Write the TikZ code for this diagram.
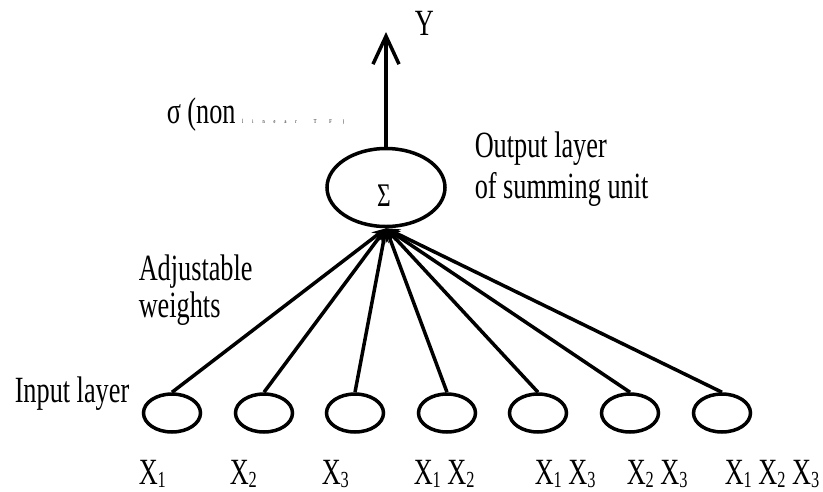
\documentclass[tikz,border=0pt]{standalone}
\usepackage{fontspec}
\setmainfont[FakeStretch=0.71]{Liberation Serif}
\usetikzlibrary{arrows.meta,positioning,shapes.geometric}
\newcommand{\lgap}{\hspace{9pt}}
\newcommand{\xs}[1]{\raisebox{-3pt}{\fontsize{23}{25}\selectfont #1}}

\begin{document}
\begin{tikzpicture}[x=1pt,y=-1pt,line width=3.5pt,
        unit/.style={draw,ellipse,minimum width=57pt,minimum height=38pt,inner sep=0pt},
        lbl/.style={anchor=base west,inner sep=0pt,font=\fontsize{37}{41}\selectfont},
        wt/.style={-{Stealth[length=14pt,width=11pt]}}]
  \useasboundingbox (0,0) rectangle (823,491);
  % summing unit
  \node[unit,minimum width=118pt,minimum height=78pt] (sum) at (386,187.5) {};
  \node[inner sep=0pt,font=\fontsize{33}{36}\selectfont] (sig) at (384,196) {Σ};
  \coordinate (yout) at (386,32);
  \draw[-{Straight Barb[length=28pt,width=26pt]}] (sum.north) -- (yout);
  \node[lbl] (y) at (413,35) {Y};
  \node[lbl] (sigma) at (165,123) {σ (non};
  \node[anchor=base west,inner sep=0pt,font=\fontsize{6}{7}\selectfont] (tf)
    at ([xshift=3pt]sigma.base east) {l\lgap i\lgap n\lgap e\lgap a\lgap r\hspace{17pt}T\hspace{13pt}F\hspace{11pt})};
  \node[lbl] (outl) at (473,157) {Output layer};
  \node[lbl] (outs) at (473,198) {of summing unit};
  % weights
  \node[lbl] (adj) at (137,280) {Adjustable};
  \node[lbl] (wts) at (137,317) {weights};
  % input layer
  \node[lbl] (inl) at (13,402) {Input layer};
  \foreach \i/\x in {1/172,2/264,3/355,4/447,5/538,6/630,7/722} {
    \node[unit] (in\i) at (\x,413) {};
    \draw[wt] (in\i.north) -- (sum.south);
  }
  \node[lbl] (x1) at (137,484) {X\xs{1}};
  \node[lbl] (x2) at (228,484) {X\xs{2}};
  \node[lbl] (x3) at (320,484) {X\xs{3}};
  \node[lbl] (x12) at (412,484) {X\xs{1} X\xs{2}};
  \node[lbl] (x13) at (533,484) {X\xs{1} X\xs{3}};
  \node[lbl] (x23) at (625,484) {X\xs{2} X\xs{3}};
  \node[lbl] (x123) at (723,484) {X\xs{1} X\xs{2} X\xs{3}};
\end{tikzpicture}
\end{document}
